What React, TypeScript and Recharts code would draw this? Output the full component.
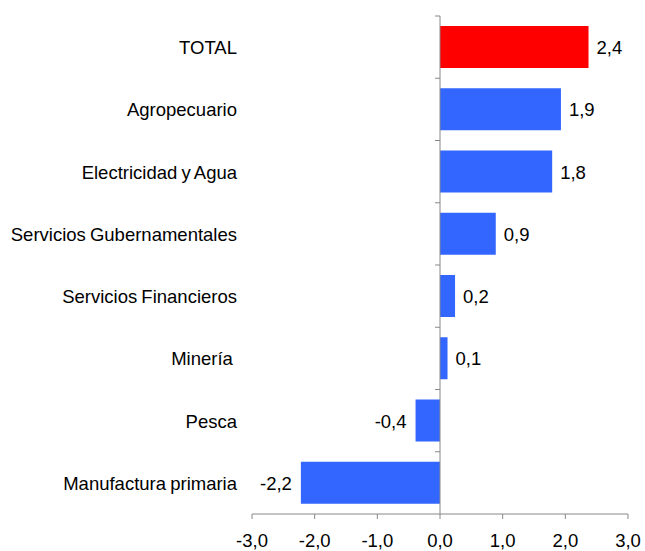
import React from 'react';
import { BarChart, Bar, XAxis, YAxis, Cell, LabelList, ReferenceLine } from 'recharts';

const categories = [
  'TOTAL',
  'Agropecuario',
  'Electricidad y Agua',
  'Servicios Gubernamentales',
  'Servicios Financieros',
  'Minería ',
  'Pesca',
  'Manufactura primaria',
];
const values = [2.37, 1.93, 1.79, 0.89, 0.24, 0.12, -0.39, -2.22];
const valueLabels = ['2,4', '1,9', '1,8', '0,9', '0,2', '0,1', '-0,4', '-2,2'];
const barColors = ['#FF0000', '#3366FF', '#3366FF', '#3366FF', '#3366FF', '#3366FF', '#3366FF', '#3366FF'];
const xTicks = [-3, -2, -1, 0, 1, 2, 3];

const data = categories.map((name, i) => ({ name, value: values[i], label: valueLabels[i] }));

const W = 645;
const H = 551;
const MARGIN = { top: 16, right: 17, bottom: 0, left: 0 };
const Y_WIDTH = 252;
const X_HEIGHT = 37;
const FONT = '"Liberation Sans", Arial, sans-serif';
const FS = 18.5;
const AXIS_COLOR = '#888888';

const plotLeft = MARGIN.left + Y_WIDTH;
const plotWidth = W - plotLeft - MARGIN.right;
const plotHeight = H - MARGIN.top - MARGIN.bottom - X_HEIGHT;
const band = plotHeight / categories.length;
const zeroX = plotLeft + ((0 - xTicks[0]) / (xTicks[xTicks.length - 1] - xTicks[0])) * plotWidth;

const CategoryTick = (props: any) => {
  const { x, y, payload } = props;
  return (
    <g>
      <line x1={zeroX - 5} x2={zeroX} y1={y - band / 2} y2={y - band / 2} stroke={AXIS_COLOR} strokeWidth={1} />
      <text
        x={x}
        y={y}
        dy={7}
        textAnchor="end"
        fontSize={FS}
        fontFamily={FONT}
        fill="#000"
        style={{ whiteSpace: 'pre', wordSpacing: '-1px' }}
      >
        {payload.value}
      </text>
    </g>
  );
};

const ValueLabel = (props: any) => {
  const { x, y, width, height, index } = props;
  const v = values[index];
  const left = Math.min(x, x + width);
  const right = Math.max(x, x + width);
  const cy = y + height / 2;
  if (v >= 0) {
    return (
      <text x={right + 8} y={cy} dy={7} textAnchor="start" fontSize={FS} fontFamily={FONT} fill="#000">
        {valueLabels[index]}
      </text>
    );
  }
  return (
    <text x={left - 9} y={cy} dy={7} textAnchor="end" fontSize={FS} fontFamily={FONT} fill="#000">
      {valueLabels[index]}
    </text>
  );
};

export default function App() {
  return (
    <div style={{ position: 'absolute', left: 0, top: 0, width: W, height: H, background: '#fff' }}>
      <BarChart width={W} height={H} data={data} layout="vertical" margin={MARGIN} barSize={42}>
        <XAxis
          type="number"
          domain={[xTicks[0], xTicks[xTicks.length - 1]]}
          ticks={xTicks}
          interval={0}
          height={X_HEIGHT}
          stroke={AXIS_COLOR}
          tickSize={5}
          tickMargin={15}
          tick={{ fill: '#000', fontSize: FS, fontFamily: FONT }}
          tickFormatter={(v: number) => v.toFixed(1).replace('.', ',')}
          allowDataOverflow
        />
        <YAxis
          type="category"
          dataKey="name"
          width={Y_WIDTH}
          axisLine={false}
          tickLine={false}
          tickSize={0}
          tickMargin={15}
          interval={0}
          tick={<CategoryTick />}
        />
        <ReferenceLine x={0} stroke={AXIS_COLOR} strokeWidth={1} ifOverflow="extendDomain" />
        <Bar dataKey="value" isAnimationActive={false}>
          {data.map((d, i) => (
            <Cell key={d.name} fill={barColors[i]} />
          ))}
          <LabelList dataKey="value" content={<ValueLabel />} />
        </Bar>
      </BarChart>
    </div>
  );
}
